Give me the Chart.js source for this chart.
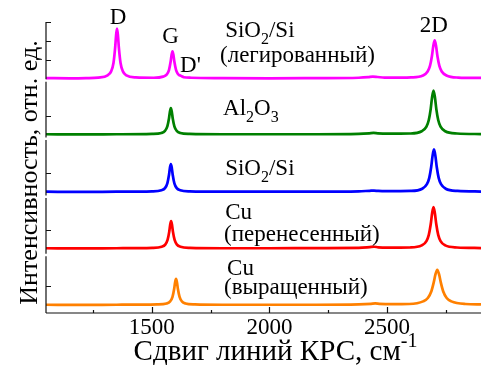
<!DOCTYPE html>
<html>
<head>
<meta charset="utf-8">
<title>Спектры КРС графена</title>
<script src="https://cdn.jsdelivr.net/npm/chart.js@4.4.1/dist/chart.umd.min.js"></script>
<style>
  html, body { margin: 0; padding: 0; background: #fff; }
  #wrap { width: 482px; height: 365px; }
</style>
</head>
<body>
<div id="wrap"><canvas id="ramanChart"></canvas></div>
<script>
// ========== DATA ==========
// Raman shift (cm-1) and intensity (arb. units), one pair per sample, top to bottom
const shiftDoped = [1050, 1150, 1220, 1272, 1312, 1327, 1337, 1344, 1348, 1352, 1356, 1360, 1367, 1377, 1392, 1432,
    1508, 1548, 1563, 1573, 1580, 1584, 1588, 1592, 1596, 1603, 1610, 1616, 1621, 1627, 1636, 1668,
    1800, 2000, 2200, 2380, 2420, 2440, 2460, 2490, 2560,
    2603, 2653, 2673, 2683, 2691, 2697, 2703, 2709, 2715, 2723, 2733, 2753, 2803, 2900];
const intensityDoped = [0.01, 0, 0.01, 0.04, 0.16, 0.37, 0.82, 1.62, 2.28, 2.65, 2.28, 1.62, 0.82, 0.37, 0.16, 0.05,
    0.03, 0.09, 0.2, 0.44, 0.88, 1.24, 1.44, 1.24, 0.88, 0.45, 0.25, 0.17, 0.15, 0.11, 0.06, 0.03,
    0.01, 0, 0.01, 0.03, 0.06, 0.09, 0.07, 0.04, 0.04,
    0.05, 0.15, 0.36, 0.66, 1.16, 1.71, 2.02, 1.71, 1.16, 0.66, 0.36, 0.15, 0.04, 0.02];

const shiftAl2O3 = [1050, 1200, 1350, 1501, 1541, 1556, 1566, 1573, 1577, 1581, 1585, 1589, 1596, 1606, 1621, 1661,
    1800, 2000, 2200, 2380, 2425, 2443, 2461, 2500,
    2598, 2648, 2668, 2678, 2686, 2692, 2698, 2704, 2710, 2718, 2728, 2748, 2798, 2900];
const intensityAl2O3 = [0.01, 0, 0.01, 0.03, 0.08, 0.19, 0.43, 0.85, 1.21, 1.40, 1.21, 0.85, 0.43, 0.19, 0.08, 0.03,
    0.01, 0.01, 0.01, 0.03, 0.06, 0.08, 0.06, 0.04,
    0.05, 0.17, 0.42, 0.77, 1.35, 1.98, 2.34, 1.98, 1.35, 0.77, 0.42, 0.17, 0.05, 0.02];

const shiftSiO2 = [1050, 1200, 1350, 1501, 1541, 1556, 1566, 1573, 1577, 1581, 1585, 1589, 1596, 1606, 1621, 1661,
    1800, 2000, 2200, 2380, 2427, 2445, 2463, 2500,
    2600, 2650, 2670, 2680, 2688, 2694, 2700, 2706, 2712, 2720, 2730, 2750, 2800, 2900];
const intensitySiO2 = [0.01, 0, 0.01, 0.03, 0.09, 0.2, 0.46, 0.9, 1.28, 1.48, 1.28, 0.9, 0.46, 0.2, 0.09, 0.03,
    0.01, 0.01, 0.01, 0.03, 0.06, 0.07, 0.05, 0.04,
    0.05, 0.17, 0.41, 0.75, 1.31, 1.92, 2.27, 1.92, 1.31, 0.75, 0.41, 0.17, 0.05, 0.02];

const shiftTransfer = [1050, 1200, 1350, 1502, 1542, 1557, 1567, 1574, 1578, 1582, 1586, 1590, 1597, 1607, 1622, 1662,
    1800, 2000, 2200, 2380, 2427, 2445, 2463, 2500,
    2598, 2648, 2668, 2678, 2686, 2692, 2698, 2704, 2710, 2718, 2728, 2748, 2798, 2900];
const intensityTransfer = [0.01, 0, 0.01, 0.03, 0.09, 0.2, 0.45, 0.88, 1.25, 1.45, 1.25, 0.88, 0.45, 0.2, 0.09, 0.03,
    0.01, 0.01, 0.02, 0.03, 0.07, 0.09, 0.06, 0.04,
    0.05, 0.16, 0.39, 0.72, 1.27, 1.86, 2.2, 1.86, 1.27, 0.72, 0.39, 0.16, 0.05, 0.02];

const shiftGrown = [1050, 1200, 1350, 1523, 1563, 1578, 1588, 1595, 1599, 1603, 1607, 1611, 1618, 1628, 1643, 1683,
    1800, 2000, 2200, 2380, 2432, 2450, 2468, 2520,
    2594, 2654, 2674, 2689, 2699, 2706, 2714, 2722, 2729, 2739, 2754, 2774, 2834, 2900];
const intensityGrown = [0.01, 0, 0.01, 0.03, 0.08, 0.19, 0.43, 0.85, 1.2, 1.39, 1.2, 0.85, 0.43, 0.19, 0.08, 0.03,
    0.01, 0.01, 0.01, 0.03, 0.06, 0.08, 0.06, 0.04,
    0.05, 0.19, 0.37, 0.73, 1.2, 1.61, 1.87, 1.61, 1.2, 0.73, 0.37, 0.19, 0.05, 0.03];

const sampleNames = ['SiO2/Si (легированный)', 'Al2O3', 'SiO2/Si', 'Cu (перенесенный)', 'Cu (выращенный)'];
const sampleColors = ['#ff00ff', '#008000', '#0000ff', '#ff0000', '#ff8000'];

// x axis ticks: labelled ones and the small ones in between
const xTickValues = [1250, 1500, 1750, 2000, 2250, 2500, 2750];
const xTickLabels = [1500, 2000, 2500];

// peak names (shown over the top spectrum)
const peakNames = ['D', 'G', "D'", '2D'];
const peakShifts = [1356, 1580, 1620, 2699];

// ========== LAYOUT / STYLE ==========
const FONT = "'Liberation Serif', 'Times New Roman', serif";
const panelMin = [-0.1, -0.21, -0.25, -0.34, -0.43];
const panelSpan = 3.1;

const allShifts = [shiftDoped, shiftAl2O3, shiftSiO2, shiftTransfer, shiftGrown];
const allIntensities = [intensityDoped, intensityAl2O3, intensitySiO2, intensityTransfer, intensityGrown];

const datasets = allShifts.map((xs, i) => ({
    label: sampleNames[i],
    data: xs.map((x, k) => ({ x: x, y: allIntensities[i][k] })),
    borderColor: sampleColors[i],
    borderWidth: 2.7,
    pointRadius: 0,
    fill: false,
    cubicInterpolationMode: 'monotone',
    xAxisID: 'x',
    yAxisID: 'y' + i
}));

const scales = {
    x: {
        type: 'linear',
        position: 'bottom',
        min: 1050,
        max: 2900,
        afterBuildTicks: s => { s.ticks = xTickValues.map(v => ({ value: v })); },
        ticks: {
            autoSkip: false,
            maxRotation: 0,
            padding: 1,
            color: '#000',
            font: { family: FONT, size: 23 },
            callback: v => xTickLabels.includes(v) ? String(v) : ''
        },
        grid: { display: false, drawTicks: false },
        border: { display: false },
        afterFit: s => { s.height = 52; }
    }
};
panelMin.forEach((mn, i) => {
    scales['y' + i] = {
        type: 'linear',
        position: 'left',
        stack: 'spectra',
        stackWeight: 1,
        weight: 10 - i,
        min: mn,
        max: mn + panelSpan,
        ticks: { display: false, stepSize: 1 },
        grid: { display: false, drawTicks: false },
        border: { display: false },
        afterFit: s => { s.width = 46; }
    };
});

// sample captions: [panel, shift, intensity, parts]
const captions = [
    [0, 1812, 2.20, [['SiO', 'n'], ['2', 'sub'], ['/Si', 'n']]],
    [0, 1790, 0.87, [['(легированный)', 'n']]],
    [1, 1803, 1.04, [['Al', 'n'], ['2', 'sub'], ['O', 'n'], ['3', 'sub']]],
    [2, 1812, 0.90, [['SiO', 'n'], ['2', 'sub'], ['/Si', 'n']]],
    [3, 1812, 1.57, [['Cu', 'n']]],
    [3, 1807, 0.40, [['(перенесенный)', 'n']]],
    [4, 1820, 1.59, [['Cu', 'n']]],
    [4, 1807, 0.58, [['(выращенный)', 'n']]]
];
const peakLabelY = [2.89, 1.88, 0.34, 2.47];
const peakAlign = ['center', 'center', 'left', 'center'];

function fontFor(kind, size) {
    const s = kind === 'n' ? size : Math.round(size * 0.68);
    return s + 'px ' + FONT;
}

function drawParts(ctx, parts, x, y, align, size) {
    const widths = parts.map(([t, kind]) => { ctx.font = fontFor(kind, size); return ctx.measureText(t).width; });
    const total = widths.reduce((a, b) => a + b, 0);
    let cx = align === 'center' ? x - total / 2 : x;
    ctx.textAlign = 'left';
    ctx.textBaseline = 'alphabetic';
    parts.forEach(([t, kind], i) => {
        ctx.font = fontFor(kind, size);
        const dy = kind === 'sub' ? size * 0.3 : kind === 'sup' ? -size * 0.45 : 0;
        ctx.fillText(t, cx, y + dy);
        cx += widths[i];
    });
}

// ========== AXES, TICKS AND TEXT ==========
const framePlugin = {
    id: 'frame',
    afterDraw(chart) {
        const ctx = chart.ctx;
        const area = chart.chartArea;
        const xs = chart.scales.x;
        ctx.save();
        ctx.strokeStyle = '#111';
        ctx.lineWidth = 1.2;

        // bottom axis with inward ticks
        ctx.beginPath();
        ctx.moveTo(area.left, area.bottom);
        ctx.lineTo(area.right, area.bottom);
        xTickValues.forEach(v => {
            const px = Math.round(xs.getPixelForValue(v)) + 0.5;
            const len = xTickLabels.includes(v) ? 6 : 3;
            ctx.moveTo(px, area.bottom);
            ctx.lineTo(px, area.bottom - len);
        });
        ctx.stroke();

        // one short left axis per panel, with a small gap between them
        panelMin.forEach((mn, i) => {
            const ys = chart.scales['y' + i];
            ctx.beginPath();
            ctx.moveTo(area.left, ys.top + (i === 0 ? 0 : 1.5));
            ctx.lineTo(area.left, ys.bottom - (i === 4 ? 0 : 1));
            ys.ticks.forEach(t => {
                if (Number.isInteger(t.value) && t.value > 0) {
                    const py = Math.round(ys.getPixelForValue(t.value)) + 0.5;
                    ctx.moveTo(area.left, py);
                    ctx.lineTo(area.left + 5, py);
                }
            });
            ctx.stroke();
        });

        ctx.fillStyle = '#000';

        // peak names over the top spectrum
        const y0 = chart.scales.y0;
        peakNames.forEach((name, i) => {
            drawParts(ctx, [[name, 'n']], xs.getPixelForValue(peakShifts[i]),
                y0.getPixelForValue(peakLabelY[i]), peakAlign[i], 23);
        });

        // sample captions
        captions.forEach(([panel, sx, sy, parts]) => {
            const ys = chart.scales['y' + panel];
            drawParts(ctx, parts, xs.getPixelForValue(sx), ys.getPixelForValue(sy), 'left', 23);
        });

        // axis titles
        const midX = (area.left + area.right) / 2 + 12;
        drawParts(ctx, [['Сдвиг линий КРС, см', 'n'], ['-1', 'sup']], midX, 360, 'center', 29);

        ctx.save();
        ctx.translate(37, (area.top + area.bottom) / 2 + 5);
        ctx.rotate(-Math.PI / 2);
        ctx.font = '26px ' + FONT;
        ctx.textAlign = 'center';
        ctx.textBaseline = 'alphabetic';
        ctx.fillText('Интенсивность, отн. ед.', 0, 0);
        ctx.restore();

        ctx.restore();
    }
};

const ctx = document.getElementById('ramanChart').getContext('2d');
const ramanChart = new Chart(ctx, {
    type: 'line',
    data: { datasets: datasets },
    options: {
        responsive: true,
        maintainAspectRatio: false,
        animation: false,
        layout: { padding: { top: 22, right: 1, left: 0, bottom: 0 } },
        plugins: {
            legend: { display: false },
            tooltip: { enabled: false }
        },
        scales: scales
    },
    plugins: [framePlugin]
});
</script>
</body>
</html>
